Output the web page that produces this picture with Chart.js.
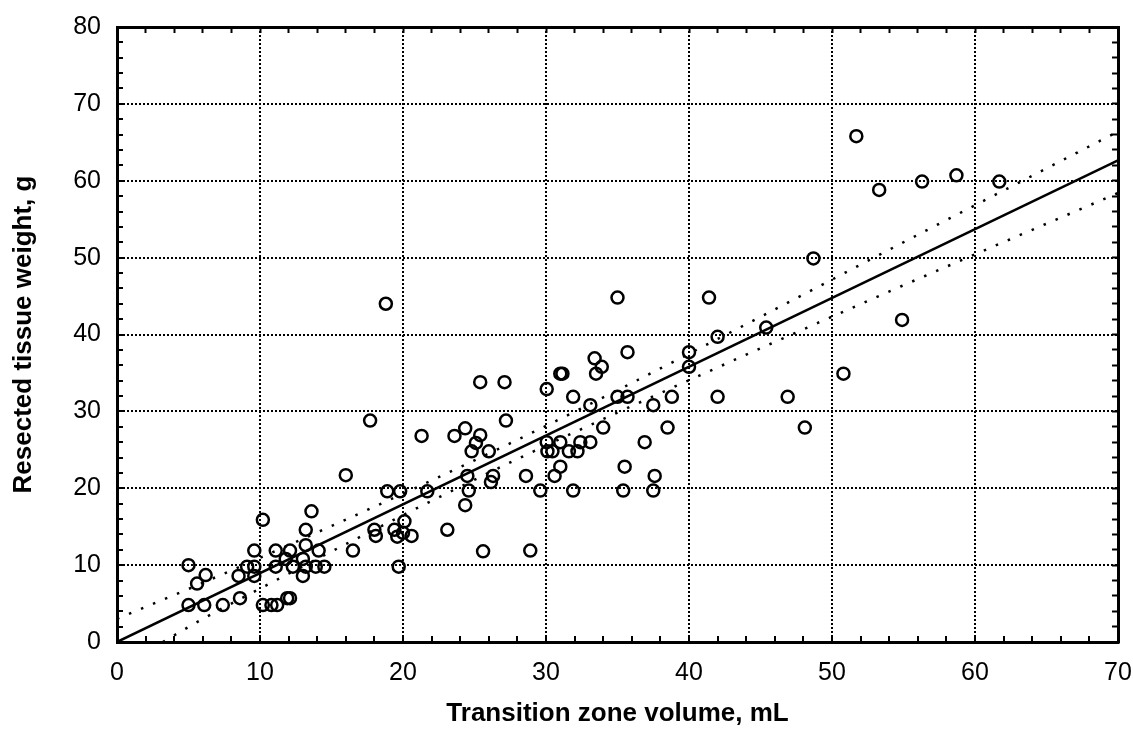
<!DOCTYPE html>
<html>
<head>
<meta charset="utf-8">
<title>Transition zone volume vs resected tissue weight</title>
<script src="https://cdn.jsdelivr.net/npm/chart.js@4.4.0/dist/chart.umd.min.js"></script>
<style>
  html, body { margin: 0; padding: 0; background: #fff; }
  #wrap { width: 1133px; height: 729px; }
</style>
</head>
<body>
<div id="wrap"><canvas id="tzChart" width="1133" height="729"></canvas></div>
<script>
var volumeML = [5.0, 6.2, 5.6, 5.0, 6.1, 7.4, 8.6, 8.5, 9.1, 9.6, 9.6, 9.6, 10.2, 10.2, 10.8, 11.2,
  11.9, 12.1, 11.1, 11.1, 11.8, 12.1, 12.3, 13.0, 13.2, 13.2, 13.6, 13.0, 13.2, 13.9, 14.5, 14.1,
  16.5, 16.0, 18.0, 18.1, 19.4, 19.6, 20.1, 20.0, 20.6, 18.9, 19.8, 17.7, 18.8, 19.7, 21.3, 21.7,
  23.1, 23.6, 24.35, 25.4, 25.1, 24.8, 26.0, 25.4, 27.1, 27.2, 24.5, 24.6, 24.35, 26.3, 26.15, 25.6,
  28.6, 28.9, 29.6, 30.05, 30.05, 30.1, 30.45, 31.0, 30.6, 31.0, 31.0, 31.15, 31.9, 31.6, 32.2, 32.4,
  33.1, 31.9, 33.1, 33.4, 33.9, 33.5, 34.0, 35.0, 35.0, 35.7, 35.7, 35.5, 35.4, 36.9, 37.5, 37.6,
  37.5, 38.5, 38.8, 40.0, 40.0, 41.4, 42.0, 42.0, 45.4, 46.9, 48.1, 48.7, 50.8, 51.7, 53.3, 54.9,
  56.3, 58.7, 61.7];
var weightG = [10.0, 8.7, 7.6, 4.8, 4.8, 4.8, 5.7, 8.6, 9.8, 9.8, 8.6, 11.9, 15.9, 4.8, 4.8, 4.8,
  5.7, 5.7, 11.9, 9.8, 10.8, 11.9, 9.8, 10.8, 12.6, 14.6, 17.0, 8.6, 9.8, 9.8, 9.8, 11.9,
  11.9, 21.7, 14.6, 13.8, 14.6, 13.7, 15.7, 14.2, 13.8, 19.6, 19.6, 28.8, 44.0, 9.8, 26.8, 19.6,
  14.6, 26.8, 27.8, 26.9, 25.9, 24.8, 24.8, 33.8, 33.8, 28.8, 21.6, 19.7, 17.8, 21.6, 20.8, 11.8,
  21.6, 11.9, 19.7, 32.9, 26.0, 24.8, 24.8, 26.0, 21.6, 22.8, 34.9, 34.9, 31.9, 24.8, 24.8, 26.0,
  26.0, 19.7, 30.8, 36.9, 35.8, 34.9, 27.9, 44.8, 31.9, 31.9, 37.7, 22.8, 19.7, 26.0, 30.8, 21.6,
  19.7, 27.9, 31.9, 37.7, 35.8, 44.8, 39.7, 31.9, 40.9, 31.9, 27.9, 49.9, 34.9, 65.8, 58.8, 41.9,
  59.9, 60.7, 59.9];

// regression line and its confidence band
var fitX = [0, 70];
var fitY = [0, 62.65];
var upperX = [0, 5, 10, 20, 28, 35, 45, 55, 70];
var upperY = [3.0, 6.9, 10.95, 19.3, 26.3, 32.75, 42.3, 52.0, 66.4];
var lowerX = [3.2, 6, 10, 20, 28, 35, 45, 55, 70];
var lowerY = [0, 3.0, 6.95, 16.5, 23.8, 29.85, 38.2, 46.4, 58.4];

var xTicks = [0, 10, 20, 30, 40, 50, 60, 70];
var yTicks = [0, 10, 20, 30, 40, 50, 60, 70, 80];

function pairs(xs, ys) {
  return xs.map(function (x, i) { return { x: x, y: ys[i] }; });
}

function isMajor(list, v) {
  return list.indexOf(Math.round(v * 1000) / 1000) !== -1;
}

// keep the plot frame where the reference has it, whatever the labels overhang
function noPad(s) {
  s.paddingLeft = 0;
  s.paddingRight = 0;
  s.paddingTop = 0;
  s.paddingBottom = 0;
}

var FONT = 'Arial, "Liberation Sans", Helvetica, sans-serif';
Chart.defaults.font.family = FONT;
Chart.defaults.color = '#000';

var gridMain = function (list) {
  return {
    color: function (c) { return c.tick && isMajor(list, c.tick.value) ? '#000' : 'rgba(0,0,0,0)'; },
    lineWidth: 2,
    drawTicks: true,
    tickLength: -6,
    tickColor: '#000',
    tickWidth: 2,
    tickBorderDash: []
  };
};
var gridSide = {
  drawOnChartArea: false,
  drawTicks: true,
  tickLength: -6,
  tickColor: '#000',
  tickWidth: 2,
  tickBorderDash: []
};

var ctx = document.getElementById('tzChart').getContext('2d');
var chart = new Chart(ctx, {
  type: 'scatter',
  data: {
    datasets: [{
      label: 'Patients',
      data: pairs(volumeML, weightG),
      pointRadius: 6,
      pointBorderWidth: 2.5,
      pointBorderColor: '#000',
      pointBackgroundColor: 'rgba(0,0,0,0)',
      showLine: false
    }, {
      label: 'Fit',
      data: pairs(fitX, fitY),
      showLine: true,
      borderColor: '#000',
      borderWidth: 2.5,
      pointRadius: 0
    }, {
      label: 'Upper 95%',
      data: pairs(upperX, upperY),
      showLine: true,
      borderColor: '#000',
      borderWidth: 2.5,
      borderDash: [2.5, 10.5],
      cubicInterpolationMode: 'monotone',
      pointRadius: 0
    }, {
      label: 'Lower 95%',
      data: pairs(lowerX, lowerY),
      showLine: true,
      borderColor: '#000',
      borderWidth: 2.5,
      borderDash: [2.5, 10.5],
      cubicInterpolationMode: 'monotone',
      pointRadius: 0
    }]
  },
  options: {
    responsive: false,
    animation: false,
    layout: { padding: 0 },
    plugins: {
      legend: { display: false },
      tooltip: { enabled: false }
    },
    scales: {
      x: {
        type: 'linear', position: 'bottom', min: 0, max: 70,
        ticks: {
          stepSize: 2, autoSkip: false, maxRotation: 0, padding: 22,
          font: { size: 25 },
          callback: function (v) { return isMajor(xTicks, v) ? String(v) : ''; }
        },
        grid: gridMain(xTicks),
        border: { display: true, color: '#000', width: 3, dash: [2, 2] },
        title: {
          display: true, text: 'Transition zone volume, mL',
          font: { size: 26, weight: 'bold', lineHeight: 1 },
          padding: { top: 0, bottom: 2 }
        },
        afterFit: function (s) { s.height = 87; noPad(s); }
      },
      y: {
        type: 'linear', position: 'left', min: 0, max: 80,
        ticks: {
          stepSize: 2, autoSkip: false, padding: 22,
          font: { size: 25 },
          callback: function (v) { return isMajor(yTicks, v) ? String(v) : ''; }
        },
        grid: gridMain(yTicks),
        border: { display: true, color: '#000', width: 3, dash: [2, 2] },
        title: {
          display: true, text: 'Resected tissue weight, g',
          font: { size: 26, weight: 'bold', lineHeight: 1 },
          padding: { top: 11, bottom: 0 }
        },
        afterFit: function (s) { s.width = 117; noPad(s); }
      },
      xTop: {
        type: 'linear', position: 'top', min: 0, max: 70,
        ticks: { stepSize: 2, autoSkip: false, display: false },
        grid: gridSide,
        border: { display: true, color: '#000', width: 3 },
        afterFit: function (s) { s.height = 27; noPad(s); }
      },
      yRight: {
        type: 'linear', position: 'right', min: 0, max: 80,
        ticks: { stepSize: 2, autoSkip: false, display: false },
        grid: gridSide,
        border: { display: true, color: '#000', width: 3 },
        afterFit: function (s) { s.width = 15; noPad(s); }
      }
    }
  }
});
</script>
</body>
</html>
